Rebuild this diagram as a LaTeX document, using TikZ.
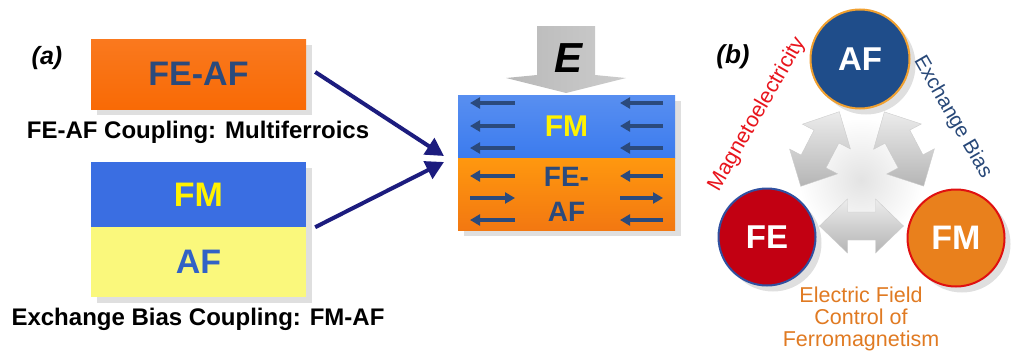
\documentclass[tikz,border=0pt]{standalone}
\usepackage{fontspec}
\setmainfont{Liberation Sans}
\usetikzlibrary{arrows.meta,shadows,calc}
\definecolor{orangeA}{HTML}{F96A05}
\definecolor{orangeB}{HTML}{FF7E12}
\definecolor{blueA}{HTML}{3A6EE2}
\definecolor{blueB}{HTML}{3B7BEE}
\definecolor{yellowA}{HTML}{FAF87C}
\definecolor{slate}{HTML}{2B4A7C}
\definecolor{navy}{HTML}{1C1C7E}
\definecolor{afblue}{HTML}{1F4D8A}
\definecolor{afring}{HTML}{F0A030}
\definecolor{fered}{HTML}{C20012}
\definecolor{fering}{HTML}{3050A0}
\definecolor{fmorange}{HTML}{E9801C}
\definecolor{fmring}{HTML}{E01010}
\definecolor{mred}{HTML}{E8141C}
\definecolor{eorange}{HTML}{E07A22}
\definecolor{ebblue}{HTML}{284878}
\definecolor{afyellowtext}{HTML}{3262C6}
\newcommand\fsz[1]{\fontsize{#1}{#1}\selectfont}
\tikzset{
  layerbox/.style={rectangle, inner sep=0pt, minimum width=215pt,
    drop shadow={shadow xshift=6pt, shadow yshift=-6pt, opacity=0.25}},
  caption/.style={font=\bfseries\fsz{24}, text=black, inner sep=0pt, anchor=base},
  panel/.style={font=\bfseries\itshape\fsz{25}, inner sep=0pt},
  navyarrow/.style={navy, line width=4pt, -{Triangle[length=18pt,width=19pt]}},
  spin/.style={draw=slate, line width=3.4pt, -{Triangle[length=10pt,width=11pt]}},
  ball/.style={circle, minimum size=97pt, inner sep=0pt, line width=2pt,
    text=white, font=\bfseries\fsz{33},
    drop shadow={shadow xshift=6pt, shadow yshift=-6pt, opacity=0.25}},
  grayarrow/.style={top color=gray!15, bottom color=gray!58, draw=gray!40, line width=0.4pt},
}
\begin{document}
\begin{tikzpicture}[x=1pt,y=-1pt]
\useasboundingbox (0,0) rectangle (1014,356);

% ---------- panel (a) ----------
\node[panel] (pa) at (47,58) {(a)};
\node[layerbox, minimum height=70pt, top color=orangeA!90!white, bottom color=orangeA,
  text=slate, font=\bfseries\fsz{34}] (feaf) at (198.5,74) {FE-AF};
\node[caption] (cap1) at (198,138) {FE-AF Coupling: Multiferroics};
\node[layerbox, minimum height=135pt] (stack) at (198.5,229.5) {};
\node[rectangle, inner sep=0pt, minimum width=215pt, minimum height=65pt, fill=blueA,
  text=yellow, font=\bfseries\fsz{34}] (fm) at (198.5,194.5) {FM};
\node[rectangle, inner sep=0pt, minimum width=215pt, minimum height=70pt, fill=yellowA,
  text=afyellowtext, font=\bfseries\fsz{34}] (af) at (198.5,262) {AF};
\node[caption] (cap2) at (198,325) {Exchange Bias Coupling: FM-AF};

% right stack
\node[layerbox, minimum width=217pt, minimum height=135pt] (rstack) at (566.5,162.5) {};
\node[rectangle, inner sep=0pt, minimum width=217pt, minimum height=63pt,
  top color=blueB!85!white, bottom color=blueB, text=yellow, font=\bfseries\fsz{30}]
  (rfm) at (566.5,126.5) {FM};
\node[rectangle, inner sep=0pt, minimum width=217pt, minimum height=72pt,
  top color=orangeB!80!yellow, bottom color=orangeB!95!black, text=slate, align=center,
  font=\bfseries\fontsize{28}{35}\selectfont] (rfeaf) at (566.5,194) {FE-\\AF};

% arrows into the stack
\coordinate (s1) at ($(feaf.east)+(9,-2)$);
\coordinate (s2) at ($(fm.south east)+(9,0)$);
\coordinate (t1) at (444,156);
\coordinate (t2) at (444,162);
\draw[navyarrow] (s1) -- (t1);
\draw[navyarrow] (s2) -- (t2);

% spins
\foreach \y in {103,126,148}{
  \draw[spin] (515,\y) -- (470,\y);
  \draw[spin] (663,\y) -- (620,\y);
}
\foreach \y/\d in {176/-1,198/1,220/-1}{
  \ifnum\d<0
    \draw[spin] (515,\y) -- (470,\y);
    \draw[spin] (663,\y) -- (620,\y);
  \else
    \draw[spin] (470,\y) -- (515,\y);
    \draw[spin] (620,\y) -- (663,\y);
  \fi
}

% E field arrow
\shade[left color=gray!55, middle color=gray!8, right color=gray!40]
  (537,26) -- (595,26) -- (595,75) -- (626,78) -- (566,93) -- (506,78) -- (537,75) -- cycle;
\node[font=\bfseries\itshape\fsz{42}, inner sep=0pt] (E) at (568,58) {E};

% ---------- panel (b) ----------
\shade[inner color=gray!22, outer color=white] (861,180) circle (62);
\begin{scope}[shift={(861.5,226)}]
  \shade[grayarrow] (-42,0) -- (-14,-27) -- (-14,-14) -- (14,-14) -- (14,-27) -- (42,0)
    -- (14,27) -- (14,14) -- (-14,14) -- (-14,27) -- cycle;
\end{scope}
\begin{scope}[shift={(820,149)}, rotate=62.7]
  \shade[grayarrow] (-42,0) -- (-14,-27) -- (-14,-14) -- (14,-14) -- (14,-27) -- (42,0)
    -- (14,27) -- (14,14) -- (-14,14) -- (-14,27) -- cycle;
\end{scope}
\begin{scope}[shift={(904,149)}, rotate=-62.1]
  \shade[grayarrow] (-42,0) -- (-14,-27) -- (-14,-14) -- (14,-14) -- (14,-27) -- (42,0)
    -- (14,27) -- (14,14) -- (-14,14) -- (-14,27) -- cycle;
\end{scope}

\node[ball, minimum size=99pt, fill=afblue, draw=afring] (cAF) at (860,59) {AF};
\node[ball, fill=fered, draw=fering] (cFE) at (767,237) {FE};
\node[ball, fill=fmorange, draw=fmring, font=\bfseries\fsz{34}] (cFM) at (956,238) {FM};

\node[panel, font=\bfseries\itshape\fsz{26}] (pb) at (733,57) {(b)};
\node[text=mred, font=\fsz{21.5}, rotate=60, anchor=base, inner sep=0pt] (lme) at (762,117) {Magnetoelectricity};
\node[text=ebblue, font=\fsz{20.5}, rotate=-60, anchor=base, inner sep=0pt] (leb) at (948,120) {Exchange Bias};
\node[text=eorange, font=\fontsize{21.5}{22}\selectfont, align=center, inner sep=0pt] (lef) at (861,318.5)
  {Electric Field\\Control of\\Ferromagnetism};
\end{tikzpicture}
\end{document}
